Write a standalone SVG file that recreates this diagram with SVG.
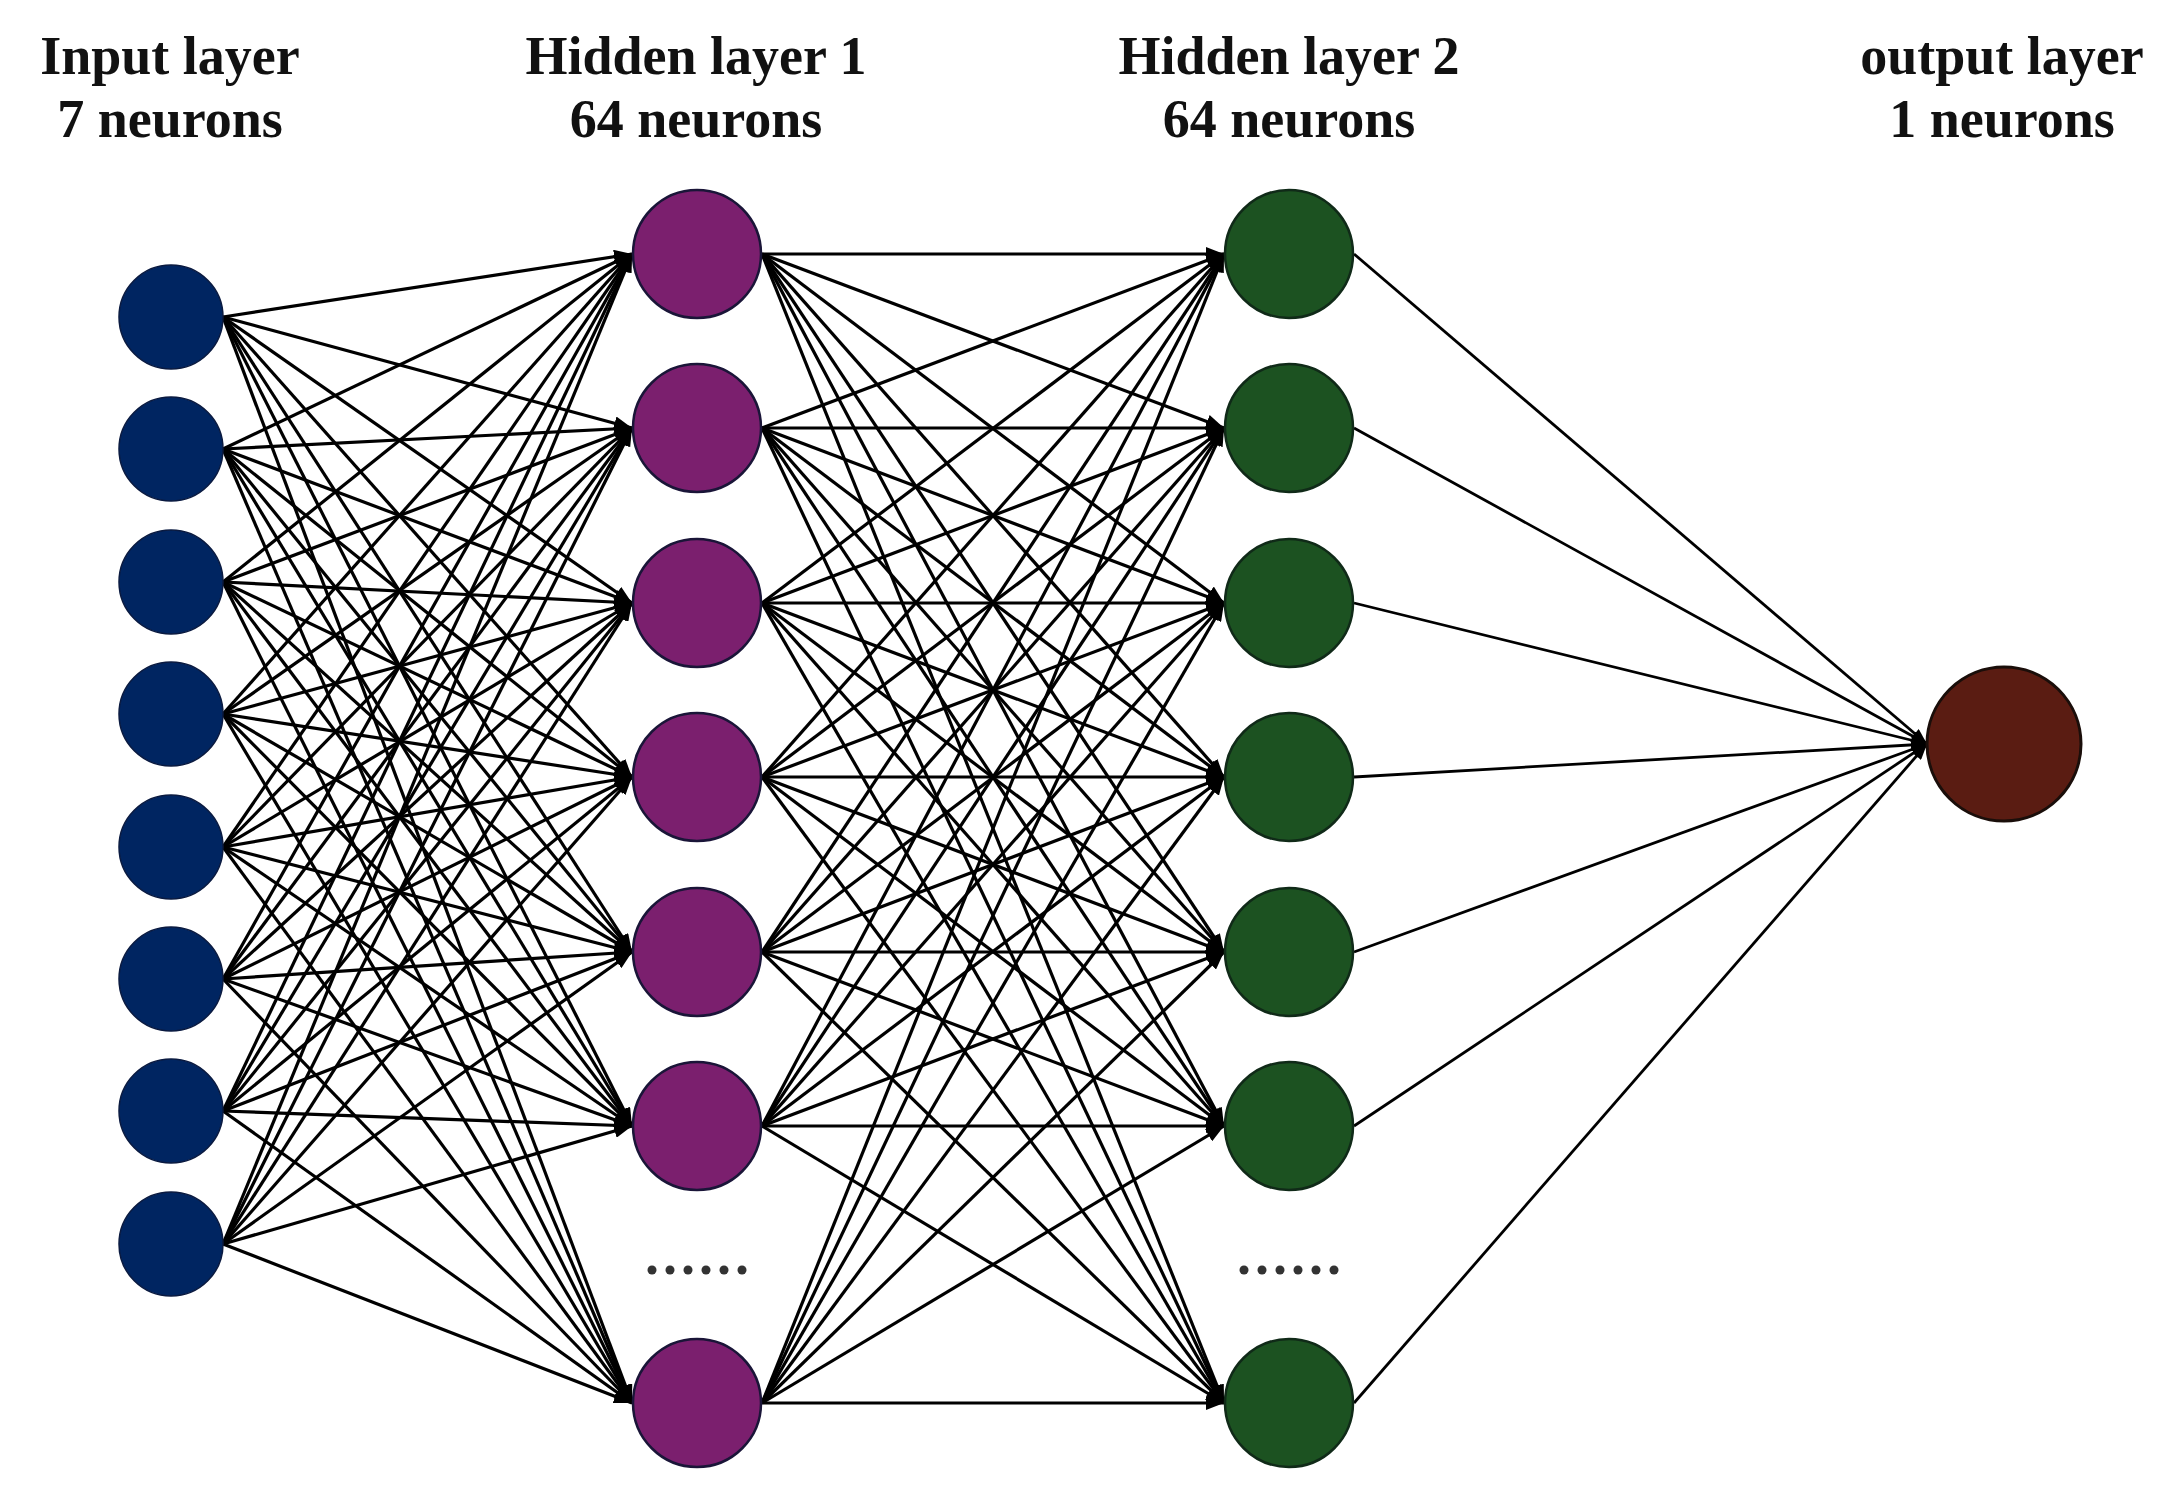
<svg xmlns="http://www.w3.org/2000/svg" width="2180" height="1506" viewBox="0 0 2180 1506">
<defs>
<style>
.t{font-family:"Liberation Serif","Times New Roman",serif;font-weight:bold;font-size:54px;fill:#111;text-anchor:middle}
.c{stroke:#000;stroke-width:3.2;fill:none;marker-end:url(#ah)}
.o{stroke:#000;stroke-width:2.8;fill:none;marker-end:url(#ah2)}
.in{fill:#002561;stroke:#0a1a40;stroke-width:1.5}
.h1{fill:#7b1f6e;stroke:#1a1538;stroke-width:2.5}
.h2{fill:#1c5221;stroke:#102a18;stroke-width:2.5}
.out{fill:#5a1c12;stroke:#1a0e0a;stroke-width:3}
.dot{fill:#333}
</style>
<marker id="ah" markerUnits="userSpaceOnUse" markerWidth="18" markerHeight="14" refX="18" refY="7" orient="auto"><path d="M0,0 L18,7 L0,14 z" fill="#000"/></marker>
<marker id="ah2" markerUnits="userSpaceOnUse" markerWidth="16" markerHeight="12" refX="16" refY="6" orient="auto"><path d="M0,0 L16,6 L0,12 z" fill="#000"/></marker>
</defs>
<rect width="2180" height="1506" fill="#fff"/>
<g id="titles">
<text class="t" x="170" y="74">Input layer</text>
<text class="t" x="170" y="137">7 neurons</text>
<text class="t" x="696" y="74">Hidden layer 1</text>
<text class="t" x="696" y="137">64 neurons</text>
<text class="t" x="1289" y="74">Hidden layer 2</text>
<text class="t" x="1289" y="137">64 neurons</text>
<text class="t" x="2002" y="74">output layer</text>
<text class="t" x="2002" y="137">1 neurons</text>
</g>
<g id="connectors">
<line class="c" x1="223" y1="317" x2="632" y2="254"/><line class="c" x1="223" y1="317" x2="632" y2="428"/><line class="c" x1="223" y1="317" x2="632" y2="603"/><line class="c" x1="223" y1="317" x2="632" y2="777"/><line class="c" x1="223" y1="317" x2="632" y2="952"/><line class="c" x1="223" y1="317" x2="632" y2="1126"/><line class="c" x1="223" y1="317" x2="632" y2="1403"/>
<line class="c" x1="223" y1="449" x2="632" y2="254"/><line class="c" x1="223" y1="449" x2="632" y2="428"/><line class="c" x1="223" y1="449" x2="632" y2="603"/><line class="c" x1="223" y1="449" x2="632" y2="777"/><line class="c" x1="223" y1="449" x2="632" y2="952"/><line class="c" x1="223" y1="449" x2="632" y2="1126"/><line class="c" x1="223" y1="449" x2="632" y2="1403"/>
<line class="c" x1="223" y1="582" x2="632" y2="254"/><line class="c" x1="223" y1="582" x2="632" y2="428"/><line class="c" x1="223" y1="582" x2="632" y2="603"/><line class="c" x1="223" y1="582" x2="632" y2="777"/><line class="c" x1="223" y1="582" x2="632" y2="952"/><line class="c" x1="223" y1="582" x2="632" y2="1126"/><line class="c" x1="223" y1="582" x2="632" y2="1403"/>
<line class="c" x1="223" y1="714" x2="632" y2="254"/><line class="c" x1="223" y1="714" x2="632" y2="428"/><line class="c" x1="223" y1="714" x2="632" y2="603"/><line class="c" x1="223" y1="714" x2="632" y2="777"/><line class="c" x1="223" y1="714" x2="632" y2="952"/><line class="c" x1="223" y1="714" x2="632" y2="1126"/><line class="c" x1="223" y1="714" x2="632" y2="1403"/>
<line class="c" x1="223" y1="847" x2="632" y2="254"/><line class="c" x1="223" y1="847" x2="632" y2="428"/><line class="c" x1="223" y1="847" x2="632" y2="603"/><line class="c" x1="223" y1="847" x2="632" y2="777"/><line class="c" x1="223" y1="847" x2="632" y2="952"/><line class="c" x1="223" y1="847" x2="632" y2="1126"/><line class="c" x1="223" y1="847" x2="632" y2="1403"/>
<line class="c" x1="223" y1="979" x2="632" y2="254"/><line class="c" x1="223" y1="979" x2="632" y2="428"/><line class="c" x1="223" y1="979" x2="632" y2="603"/><line class="c" x1="223" y1="979" x2="632" y2="777"/><line class="c" x1="223" y1="979" x2="632" y2="952"/><line class="c" x1="223" y1="979" x2="632" y2="1126"/><line class="c" x1="223" y1="979" x2="632" y2="1403"/>
<line class="c" x1="223" y1="1111" x2="632" y2="254"/><line class="c" x1="223" y1="1111" x2="632" y2="428"/><line class="c" x1="223" y1="1111" x2="632" y2="603"/><line class="c" x1="223" y1="1111" x2="632" y2="777"/><line class="c" x1="223" y1="1111" x2="632" y2="952"/><line class="c" x1="223" y1="1111" x2="632" y2="1126"/><line class="c" x1="223" y1="1111" x2="632" y2="1403"/>
<line class="c" x1="223" y1="1244" x2="632" y2="254"/><line class="c" x1="223" y1="1244" x2="632" y2="428"/><line class="c" x1="223" y1="1244" x2="632" y2="603"/><line class="c" x1="223" y1="1244" x2="632" y2="777"/><line class="c" x1="223" y1="1244" x2="632" y2="952"/><line class="c" x1="223" y1="1244" x2="632" y2="1126"/><line class="c" x1="223" y1="1244" x2="632" y2="1403"/>
<line class="c" x1="762" y1="254" x2="1224" y2="254"/><line class="c" x1="762" y1="254" x2="1224" y2="428"/><line class="c" x1="762" y1="254" x2="1224" y2="603"/><line class="c" x1="762" y1="254" x2="1224" y2="777"/><line class="c" x1="762" y1="254" x2="1224" y2="952"/><line class="c" x1="762" y1="254" x2="1224" y2="1126"/><line class="c" x1="762" y1="254" x2="1224" y2="1403"/>
<line class="c" x1="762" y1="428" x2="1224" y2="254"/><line class="c" x1="762" y1="428" x2="1224" y2="428"/><line class="c" x1="762" y1="428" x2="1224" y2="603"/><line class="c" x1="762" y1="428" x2="1224" y2="777"/><line class="c" x1="762" y1="428" x2="1224" y2="952"/><line class="c" x1="762" y1="428" x2="1224" y2="1126"/><line class="c" x1="762" y1="428" x2="1224" y2="1403"/>
<line class="c" x1="762" y1="603" x2="1224" y2="254"/><line class="c" x1="762" y1="603" x2="1224" y2="428"/><line class="c" x1="762" y1="603" x2="1224" y2="603"/><line class="c" x1="762" y1="603" x2="1224" y2="777"/><line class="c" x1="762" y1="603" x2="1224" y2="952"/><line class="c" x1="762" y1="603" x2="1224" y2="1126"/><line class="c" x1="762" y1="603" x2="1224" y2="1403"/>
<line class="c" x1="762" y1="777" x2="1224" y2="254"/><line class="c" x1="762" y1="777" x2="1224" y2="428"/><line class="c" x1="762" y1="777" x2="1224" y2="603"/><line class="c" x1="762" y1="777" x2="1224" y2="777"/><line class="c" x1="762" y1="777" x2="1224" y2="952"/><line class="c" x1="762" y1="777" x2="1224" y2="1126"/><line class="c" x1="762" y1="777" x2="1224" y2="1403"/>
<line class="c" x1="762" y1="952" x2="1224" y2="254"/><line class="c" x1="762" y1="952" x2="1224" y2="428"/><line class="c" x1="762" y1="952" x2="1224" y2="603"/><line class="c" x1="762" y1="952" x2="1224" y2="777"/><line class="c" x1="762" y1="952" x2="1224" y2="952"/><line class="c" x1="762" y1="952" x2="1224" y2="1126"/><line class="c" x1="762" y1="952" x2="1224" y2="1403"/>
<line class="c" x1="762" y1="1126" x2="1224" y2="254"/><line class="c" x1="762" y1="1126" x2="1224" y2="428"/><line class="c" x1="762" y1="1126" x2="1224" y2="603"/><line class="c" x1="762" y1="1126" x2="1224" y2="777"/><line class="c" x1="762" y1="1126" x2="1224" y2="952"/><line class="c" x1="762" y1="1126" x2="1224" y2="1126"/><line class="c" x1="762" y1="1126" x2="1224" y2="1403"/>
<line class="c" x1="762" y1="1403" x2="1224" y2="254"/><line class="c" x1="762" y1="1403" x2="1224" y2="428"/><line class="c" x1="762" y1="1403" x2="1224" y2="603"/><line class="c" x1="762" y1="1403" x2="1224" y2="777"/><line class="c" x1="762" y1="1403" x2="1224" y2="952"/><line class="c" x1="762" y1="1403" x2="1224" y2="1126"/><line class="c" x1="762" y1="1403" x2="1224" y2="1403"/>
<line class="o" x1="1354" y1="254" x2="1927" y2="744"/><line class="o" x1="1354" y1="428" x2="1927" y2="744"/><line class="o" x1="1354" y1="603" x2="1927" y2="744"/><line class="o" x1="1354" y1="777" x2="1927" y2="744"/><line class="o" x1="1354" y1="952" x2="1927" y2="744"/><line class="o" x1="1354" y1="1126" x2="1927" y2="744"/><line class="o" x1="1354" y1="1403" x2="1927" y2="744"/>
</g>
<g id="input-layer">
<circle id="in1" class="in" cx="171" cy="317" r="52"/>
<circle id="in2" class="in" cx="171" cy="449" r="52"/>
<circle id="in3" class="in" cx="171" cy="582" r="52"/>
<circle id="in4" class="in" cx="171" cy="714" r="52"/>
<circle id="in5" class="in" cx="171" cy="847" r="52"/>
<circle id="in6" class="in" cx="171" cy="979" r="52"/>
<circle id="in7" class="in" cx="171" cy="1111" r="52"/>
<circle id="in8" class="in" cx="171" cy="1244" r="52"/>
</g>
<g id="hidden-layer-1">
<circle id="h1a" class="h1" cx="697" cy="254" r="64"/>
<circle id="h1b" class="h1" cx="697" cy="428" r="64"/>
<circle id="h1c" class="h1" cx="697" cy="603" r="64"/>
<circle id="h1d" class="h1" cx="697" cy="777" r="64"/>
<circle id="h1e" class="h1" cx="697" cy="952" r="64"/>
<circle id="h1f" class="h1" cx="697" cy="1126" r="64"/>
<circle id="h1g" class="h1" cx="697" cy="1403" r="64"/>
<g id="h1-dots"><circle class="dot" cx="652" cy="1270" r="4.5"/><circle class="dot" cx="670" cy="1270" r="4.5"/><circle class="dot" cx="688" cy="1270" r="4.5"/><circle class="dot" cx="706" cy="1270" r="4.5"/><circle class="dot" cx="724" cy="1270" r="4.5"/><circle class="dot" cx="742" cy="1270" r="4.5"/></g>
</g>
<g id="hidden-layer-2">
<circle id="h2a" class="h2" cx="1289" cy="254" r="64"/>
<circle id="h2b" class="h2" cx="1289" cy="428" r="64"/>
<circle id="h2c" class="h2" cx="1289" cy="603" r="64"/>
<circle id="h2d" class="h2" cx="1289" cy="777" r="64"/>
<circle id="h2e" class="h2" cx="1289" cy="952" r="64"/>
<circle id="h2f" class="h2" cx="1289" cy="1126" r="64"/>
<circle id="h2g" class="h2" cx="1289" cy="1403" r="64"/>
<g id="h2-dots"><circle class="dot" cx="1244" cy="1270" r="4.5"/><circle class="dot" cx="1262" cy="1270" r="4.5"/><circle class="dot" cx="1280" cy="1270" r="4.5"/><circle class="dot" cx="1298" cy="1270" r="4.5"/><circle class="dot" cx="1316" cy="1270" r="4.5"/><circle class="dot" cx="1334" cy="1270" r="4.5"/></g>
</g>
<g id="output-layer">
<circle id="out1" class="out" cx="2004" cy="744" r="77"/>
</g>
</svg>
